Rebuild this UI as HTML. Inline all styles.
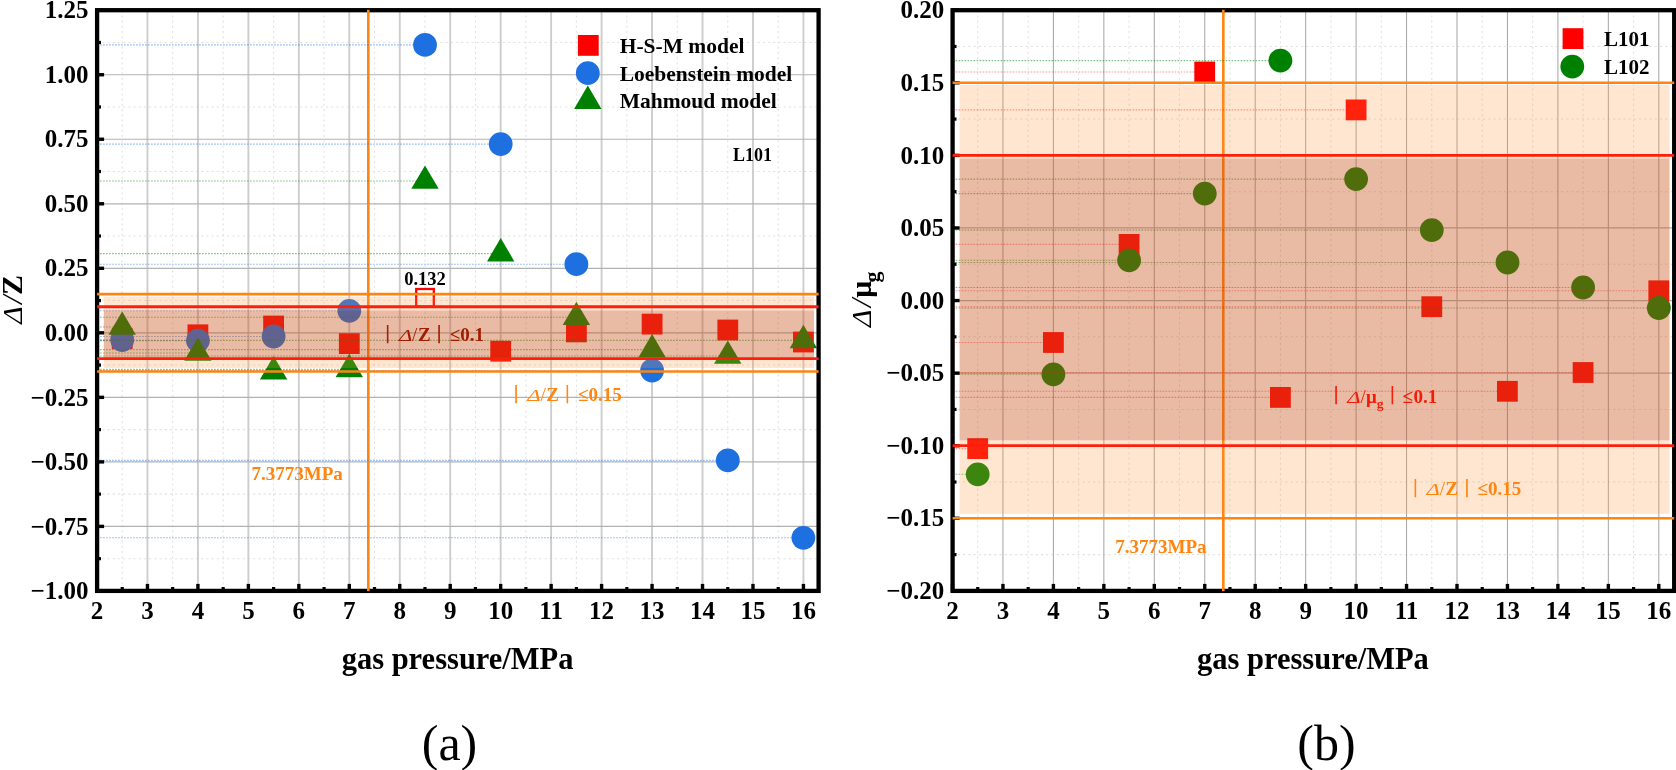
<!DOCTYPE html>
<html><head><meta charset="utf-8"><title>chart</title>
<style>html,body{margin:0;padding:0;background:#fff}svg{display:block;filter:blur(0.45px)}</style></head>
<body>
<svg width="1676" height="770" viewBox="0 0 1676 770">
<rect width="1676" height="770" fill="#fff"/>
<g>
<line x1="122.23" x2="122.23" y1="10.2" y2="590.9" stroke="#e2e2e2" stroke-width="1.05" stroke-dasharray="2.2 3"/>
<line x1="172.69" x2="172.69" y1="10.2" y2="590.9" stroke="#e2e2e2" stroke-width="1.05" stroke-dasharray="2.2 3"/>
<line x1="223.15" x2="223.15" y1="10.2" y2="590.9" stroke="#e2e2e2" stroke-width="1.05" stroke-dasharray="2.2 3"/>
<line x1="273.61" x2="273.61" y1="10.2" y2="590.9" stroke="#e2e2e2" stroke-width="1.05" stroke-dasharray="2.2 3"/>
<line x1="324.07" x2="324.07" y1="10.2" y2="590.9" stroke="#e2e2e2" stroke-width="1.05" stroke-dasharray="2.2 3"/>
<line x1="374.53" x2="374.53" y1="10.2" y2="590.9" stroke="#e2e2e2" stroke-width="1.05" stroke-dasharray="2.2 3"/>
<line x1="424.99" x2="424.99" y1="10.2" y2="590.9" stroke="#e2e2e2" stroke-width="1.05" stroke-dasharray="2.2 3"/>
<line x1="475.45" x2="475.45" y1="10.2" y2="590.9" stroke="#e2e2e2" stroke-width="1.05" stroke-dasharray="2.2 3"/>
<line x1="525.91" x2="525.91" y1="10.2" y2="590.9" stroke="#e2e2e2" stroke-width="1.05" stroke-dasharray="2.2 3"/>
<line x1="576.37" x2="576.37" y1="10.2" y2="590.9" stroke="#e2e2e2" stroke-width="1.05" stroke-dasharray="2.2 3"/>
<line x1="626.83" x2="626.83" y1="10.2" y2="590.9" stroke="#e2e2e2" stroke-width="1.05" stroke-dasharray="2.2 3"/>
<line x1="677.29" x2="677.29" y1="10.2" y2="590.9" stroke="#e2e2e2" stroke-width="1.05" stroke-dasharray="2.2 3"/>
<line x1="727.75" x2="727.75" y1="10.2" y2="590.9" stroke="#e2e2e2" stroke-width="1.05" stroke-dasharray="2.2 3"/>
<line x1="778.21" x2="778.21" y1="10.2" y2="590.9" stroke="#e2e2e2" stroke-width="1.05" stroke-dasharray="2.2 3"/>
<line x1="97.1" x2="818.6" y1="42.46" y2="42.46" stroke="#e2e2e2" stroke-width="1.05" stroke-dasharray="2.2 3"/>
<line x1="97.1" x2="818.6" y1="106.99" y2="106.99" stroke="#e2e2e2" stroke-width="1.05" stroke-dasharray="2.2 3"/>
<line x1="97.1" x2="818.6" y1="171.51" y2="171.51" stroke="#e2e2e2" stroke-width="1.05" stroke-dasharray="2.2 3"/>
<line x1="97.1" x2="818.6" y1="236.04" y2="236.04" stroke="#e2e2e2" stroke-width="1.05" stroke-dasharray="2.2 3"/>
<line x1="97.1" x2="818.6" y1="300.56" y2="300.56" stroke="#e2e2e2" stroke-width="1.05" stroke-dasharray="2.2 3"/>
<line x1="97.1" x2="818.6" y1="365.09" y2="365.09" stroke="#e2e2e2" stroke-width="1.05" stroke-dasharray="2.2 3"/>
<line x1="97.1" x2="818.6" y1="429.61" y2="429.61" stroke="#e2e2e2" stroke-width="1.05" stroke-dasharray="2.2 3"/>
<line x1="97.1" x2="818.6" y1="494.14" y2="494.14" stroke="#e2e2e2" stroke-width="1.05" stroke-dasharray="2.2 3"/>
<line x1="97.1" x2="818.6" y1="558.66" y2="558.66" stroke="#e2e2e2" stroke-width="1.05" stroke-dasharray="2.2 3"/>
<line x1="97.00" x2="97.00" y1="10.2" y2="590.9" stroke="#cdcdcd" stroke-width="1.9"/>
<line x1="147.46" x2="147.46" y1="10.2" y2="590.9" stroke="#cdcdcd" stroke-width="1.9"/>
<line x1="197.92" x2="197.92" y1="10.2" y2="590.9" stroke="#cdcdcd" stroke-width="1.9"/>
<line x1="248.38" x2="248.38" y1="10.2" y2="590.9" stroke="#cdcdcd" stroke-width="1.9"/>
<line x1="298.84" x2="298.84" y1="10.2" y2="590.9" stroke="#cdcdcd" stroke-width="1.9"/>
<line x1="349.30" x2="349.30" y1="10.2" y2="590.9" stroke="#cdcdcd" stroke-width="1.9"/>
<line x1="399.76" x2="399.76" y1="10.2" y2="590.9" stroke="#cdcdcd" stroke-width="1.9"/>
<line x1="450.22" x2="450.22" y1="10.2" y2="590.9" stroke="#cdcdcd" stroke-width="1.9"/>
<line x1="500.68" x2="500.68" y1="10.2" y2="590.9" stroke="#cdcdcd" stroke-width="1.9"/>
<line x1="551.14" x2="551.14" y1="10.2" y2="590.9" stroke="#cdcdcd" stroke-width="1.9"/>
<line x1="601.60" x2="601.60" y1="10.2" y2="590.9" stroke="#cdcdcd" stroke-width="1.9"/>
<line x1="652.06" x2="652.06" y1="10.2" y2="590.9" stroke="#cdcdcd" stroke-width="1.9"/>
<line x1="702.52" x2="702.52" y1="10.2" y2="590.9" stroke="#cdcdcd" stroke-width="1.9"/>
<line x1="752.98" x2="752.98" y1="10.2" y2="590.9" stroke="#cdcdcd" stroke-width="1.9"/>
<line x1="803.44" x2="803.44" y1="10.2" y2="590.9" stroke="#cdcdcd" stroke-width="1.9"/>
<line x1="97.1" x2="818.6" y1="10.20" y2="10.20" stroke="#b2b2b2" stroke-width="1.2"/>
<line x1="97.1" x2="818.6" y1="74.73" y2="74.73" stroke="#b2b2b2" stroke-width="1.2"/>
<line x1="97.1" x2="818.6" y1="139.25" y2="139.25" stroke="#b2b2b2" stroke-width="1.2"/>
<line x1="97.1" x2="818.6" y1="203.78" y2="203.78" stroke="#b2b2b2" stroke-width="1.2"/>
<line x1="97.1" x2="818.6" y1="268.30" y2="268.30" stroke="#b2b2b2" stroke-width="1.2"/>
<line x1="97.1" x2="818.6" y1="332.82" y2="332.82" stroke="#b2b2b2" stroke-width="1.2"/>
<line x1="97.1" x2="818.6" y1="397.35" y2="397.35" stroke="#b2b2b2" stroke-width="1.2"/>
<line x1="97.1" x2="818.6" y1="461.88" y2="461.88" stroke="#b2b2b2" stroke-width="1.2"/>
<line x1="97.1" x2="818.6" y1="526.40" y2="526.40" stroke="#b2b2b2" stroke-width="1.2"/>
<line x1="97.1" x2="818.6" y1="590.93" y2="590.93" stroke="#b2b2b2" stroke-width="1.2"/>
<line x1="368.3" x2="368.3" y1="10.2" y2="590.9" stroke="#ff8410" stroke-width="2.6"/>
<rect x="111.8" y="328.3" width="20.8" height="20.8" fill="#ff0000"/>
<rect x="187.5" y="324.4" width="20.8" height="20.8" fill="#ff0000"/>
<rect x="263.2" y="315.6" width="20.8" height="20.8" fill="#ff0000"/>
<rect x="338.9" y="333.2" width="20.8" height="20.8" fill="#ff0000"/>
<rect x="490.3" y="340.8" width="20.8" height="20.8" fill="#ff0000"/>
<rect x="566.0" y="321.5" width="20.8" height="20.8" fill="#ff0000"/>
<rect x="641.7" y="313.7" width="20.8" height="20.8" fill="#ff0000"/>
<rect x="717.4" y="319.6" width="20.8" height="20.8" fill="#ff0000"/>
<rect x="793.0" y="331.6" width="20.8" height="20.8" fill="#ff0000"/>
<rect x="416.2" y="289.0" width="17.6" height="17.6" fill="none" stroke="#ff0000" stroke-width="2.3"/>
<circle cx="122.2" cy="340.0" r="11.9" fill="#1e6fe0"/>
<circle cx="197.9" cy="340.6" r="11.9" fill="#1e6fe0"/>
<circle cx="273.6" cy="336.5" r="11.9" fill="#1e6fe0"/>
<circle cx="349.3" cy="310.8" r="11.9" fill="#1e6fe0"/>
<circle cx="425.0" cy="44.9" r="11.9" fill="#1e6fe0"/>
<circle cx="500.7" cy="144.1" r="11.9" fill="#1e6fe0"/>
<circle cx="576.4" cy="264.2" r="11.9" fill="#1e6fe0"/>
<circle cx="652.1" cy="370.5" r="11.9" fill="#1e6fe0"/>
<circle cx="727.8" cy="460.4" r="11.9" fill="#1e6fe0"/>
<circle cx="803.4" cy="537.8" r="11.9" fill="#1e6fe0"/>
<polygon points="122.2,311.4 108.5,334.8 135.9,334.8" fill="#008000"/>
<polygon points="197.9,337.4 184.2,360.8 211.6,360.8" fill="#008000"/>
<polygon points="273.6,356.1 259.9,379.5 287.3,379.5" fill="#008000"/>
<polygon points="349.3,353.8 335.6,377.2 363.0,377.2" fill="#008000"/>
<polygon points="425.0,165.4 411.3,188.8 438.7,188.8" fill="#008000"/>
<polygon points="500.7,238.0 487.0,261.4 514.4,261.4" fill="#008000"/>
<polygon points="576.4,301.7 562.7,325.1 590.1,325.1" fill="#008000"/>
<polygon points="652.1,334.0 638.4,357.4 665.8,357.4" fill="#008000"/>
<polygon points="727.8,340.4 714.0,363.8 741.5,363.8" fill="#008000"/>
<polygon points="803.4,324.8 789.7,348.2 817.1,348.2" fill="#008000"/>
<line x1="97.1" x2="122.2" y1="340.0" y2="340.0" stroke="#1e6fe0" stroke-opacity="0.5" stroke-width="1.1" stroke-dasharray="1.6 1.4"/>
<line x1="97.1" x2="197.9" y1="340.6" y2="340.6" stroke="#1e6fe0" stroke-opacity="0.5" stroke-width="1.1" stroke-dasharray="1.6 1.4"/>
<line x1="97.1" x2="273.6" y1="336.5" y2="336.5" stroke="#1e6fe0" stroke-opacity="0.5" stroke-width="1.1" stroke-dasharray="1.6 1.4"/>
<line x1="97.1" x2="349.3" y1="310.8" y2="310.8" stroke="#1e6fe0" stroke-opacity="0.5" stroke-width="1.1" stroke-dasharray="1.6 1.4"/>
<line x1="97.1" x2="425.0" y1="44.9" y2="44.9" stroke="#1e6fe0" stroke-opacity="0.5" stroke-width="1.1" stroke-dasharray="1.6 1.4"/>
<line x1="97.1" x2="500.7" y1="144.1" y2="144.1" stroke="#1e6fe0" stroke-opacity="0.5" stroke-width="1.1" stroke-dasharray="1.6 1.4"/>
<line x1="97.1" x2="576.4" y1="264.2" y2="264.2" stroke="#1e6fe0" stroke-opacity="0.5" stroke-width="1.1" stroke-dasharray="1.6 1.4"/>
<line x1="97.1" x2="652.1" y1="370.5" y2="370.5" stroke="#1e6fe0" stroke-opacity="0.5" stroke-width="1.1" stroke-dasharray="1.6 1.4"/>
<line x1="97.1" x2="727.8" y1="460.4" y2="460.4" stroke="#1e6fe0" stroke-opacity="0.5" stroke-width="1.1" stroke-dasharray="1.6 1.4"/>
<line x1="97.1" x2="803.4" y1="537.8" y2="537.8" stroke="#1e6fe0" stroke-opacity="0.5" stroke-width="1.1" stroke-dasharray="1.6 1.4"/>
<line x1="97.1" x2="122.2" y1="327.0" y2="327.0" stroke="#008000" stroke-opacity="0.5" stroke-width="1.1" stroke-dasharray="1.6 1.4"/>
<line x1="97.1" x2="197.9" y1="353.0" y2="353.0" stroke="#008000" stroke-opacity="0.5" stroke-width="1.1" stroke-dasharray="1.6 1.4"/>
<line x1="97.1" x2="273.6" y1="371.7" y2="371.7" stroke="#008000" stroke-opacity="0.5" stroke-width="1.1" stroke-dasharray="1.6 1.4"/>
<line x1="97.1" x2="349.3" y1="369.4" y2="369.4" stroke="#008000" stroke-opacity="0.5" stroke-width="1.1" stroke-dasharray="1.6 1.4"/>
<line x1="97.1" x2="425.0" y1="181.0" y2="181.0" stroke="#008000" stroke-opacity="0.5" stroke-width="1.1" stroke-dasharray="1.6 1.4"/>
<line x1="97.1" x2="500.7" y1="253.6" y2="253.6" stroke="#008000" stroke-opacity="0.5" stroke-width="1.1" stroke-dasharray="1.6 1.4"/>
<line x1="97.1" x2="576.4" y1="317.3" y2="317.3" stroke="#008000" stroke-opacity="0.5" stroke-width="1.1" stroke-dasharray="1.6 1.4"/>
<line x1="97.1" x2="652.1" y1="349.6" y2="349.6" stroke="#008000" stroke-opacity="0.5" stroke-width="1.1" stroke-dasharray="1.6 1.4"/>
<line x1="97.1" x2="727.8" y1="356.0" y2="356.0" stroke="#008000" stroke-opacity="0.5" stroke-width="1.1" stroke-dasharray="1.6 1.4"/>
<line x1="97.1" x2="803.4" y1="340.4" y2="340.4" stroke="#008000" stroke-opacity="0.5" stroke-width="1.1" stroke-dasharray="1.6 1.4"/>
<rect x="103.8" y="296.7" width="710.2" height="71.3" fill="rgb(255,150,60)" fill-opacity="0.235"/>
<rect x="103.8" y="310.5" width="710.2" height="47.5" fill="rgb(150,25,0)" fill-opacity="0.21"/>
<line x1="97.00" x2="97.00" y1="590.9" y2="583.9" stroke="#000" stroke-width="3.4"/>
<line x1="147.46" x2="147.46" y1="590.9" y2="583.9" stroke="#000" stroke-width="3.4"/>
<line x1="197.92" x2="197.92" y1="590.9" y2="583.9" stroke="#000" stroke-width="3.4"/>
<line x1="248.38" x2="248.38" y1="590.9" y2="583.9" stroke="#000" stroke-width="3.4"/>
<line x1="298.84" x2="298.84" y1="590.9" y2="583.9" stroke="#000" stroke-width="3.4"/>
<line x1="349.30" x2="349.30" y1="590.9" y2="583.9" stroke="#000" stroke-width="3.4"/>
<line x1="399.76" x2="399.76" y1="590.9" y2="583.9" stroke="#000" stroke-width="3.4"/>
<line x1="450.22" x2="450.22" y1="590.9" y2="583.9" stroke="#000" stroke-width="3.4"/>
<line x1="500.68" x2="500.68" y1="590.9" y2="583.9" stroke="#000" stroke-width="3.4"/>
<line x1="551.14" x2="551.14" y1="590.9" y2="583.9" stroke="#000" stroke-width="3.4"/>
<line x1="601.60" x2="601.60" y1="590.9" y2="583.9" stroke="#000" stroke-width="3.4"/>
<line x1="652.06" x2="652.06" y1="590.9" y2="583.9" stroke="#000" stroke-width="3.4"/>
<line x1="702.52" x2="702.52" y1="590.9" y2="583.9" stroke="#000" stroke-width="3.4"/>
<line x1="752.98" x2="752.98" y1="590.9" y2="583.9" stroke="#000" stroke-width="3.4"/>
<line x1="803.44" x2="803.44" y1="590.9" y2="583.9" stroke="#000" stroke-width="3.4"/>
<line x1="122.23" x2="122.23" y1="590.9" y2="587.0" stroke="#000" stroke-width="3.2"/>
<line x1="172.69" x2="172.69" y1="590.9" y2="587.0" stroke="#000" stroke-width="3.2"/>
<line x1="223.15" x2="223.15" y1="590.9" y2="587.0" stroke="#000" stroke-width="3.2"/>
<line x1="273.61" x2="273.61" y1="590.9" y2="587.0" stroke="#000" stroke-width="3.2"/>
<line x1="324.07" x2="324.07" y1="590.9" y2="587.0" stroke="#000" stroke-width="3.2"/>
<line x1="374.53" x2="374.53" y1="590.9" y2="587.0" stroke="#000" stroke-width="3.2"/>
<line x1="424.99" x2="424.99" y1="590.9" y2="587.0" stroke="#000" stroke-width="3.2"/>
<line x1="475.45" x2="475.45" y1="590.9" y2="587.0" stroke="#000" stroke-width="3.2"/>
<line x1="525.91" x2="525.91" y1="590.9" y2="587.0" stroke="#000" stroke-width="3.2"/>
<line x1="576.37" x2="576.37" y1="590.9" y2="587.0" stroke="#000" stroke-width="3.2"/>
<line x1="626.83" x2="626.83" y1="590.9" y2="587.0" stroke="#000" stroke-width="3.2"/>
<line x1="677.29" x2="677.29" y1="590.9" y2="587.0" stroke="#000" stroke-width="3.2"/>
<line x1="727.75" x2="727.75" y1="590.9" y2="587.0" stroke="#000" stroke-width="3.2"/>
<line x1="778.21" x2="778.21" y1="590.9" y2="587.0" stroke="#000" stroke-width="3.2"/>
<line x1="97.1" x2="104.1" y1="10.20" y2="10.20" stroke="#000" stroke-width="3.4"/>
<line x1="97.1" x2="104.1" y1="74.73" y2="74.73" stroke="#000" stroke-width="3.4"/>
<line x1="97.1" x2="104.1" y1="139.25" y2="139.25" stroke="#000" stroke-width="3.4"/>
<line x1="97.1" x2="104.1" y1="203.78" y2="203.78" stroke="#000" stroke-width="3.4"/>
<line x1="97.1" x2="104.1" y1="268.30" y2="268.30" stroke="#000" stroke-width="3.4"/>
<line x1="97.1" x2="104.1" y1="332.82" y2="332.82" stroke="#000" stroke-width="3.4"/>
<line x1="97.1" x2="104.1" y1="397.35" y2="397.35" stroke="#000" stroke-width="3.4"/>
<line x1="97.1" x2="104.1" y1="461.88" y2="461.88" stroke="#000" stroke-width="3.4"/>
<line x1="97.1" x2="104.1" y1="526.40" y2="526.40" stroke="#000" stroke-width="3.4"/>
<line x1="97.1" x2="104.1" y1="590.93" y2="590.93" stroke="#000" stroke-width="3.4"/>
<line x1="97.1" x2="101.0" y1="42.46" y2="42.46" stroke="#000" stroke-width="3.2"/>
<line x1="97.1" x2="101.0" y1="106.99" y2="106.99" stroke="#000" stroke-width="3.2"/>
<line x1="97.1" x2="101.0" y1="171.51" y2="171.51" stroke="#000" stroke-width="3.2"/>
<line x1="97.1" x2="101.0" y1="236.04" y2="236.04" stroke="#000" stroke-width="3.2"/>
<line x1="97.1" x2="101.0" y1="300.56" y2="300.56" stroke="#000" stroke-width="3.2"/>
<line x1="97.1" x2="101.0" y1="365.09" y2="365.09" stroke="#000" stroke-width="3.2"/>
<line x1="97.1" x2="101.0" y1="429.61" y2="429.61" stroke="#000" stroke-width="3.2"/>
<line x1="97.1" x2="101.0" y1="494.14" y2="494.14" stroke="#000" stroke-width="3.2"/>
<line x1="97.1" x2="101.0" y1="558.66" y2="558.66" stroke="#000" stroke-width="3.2"/>
<rect x="97.1" y="10.2" width="721.5" height="580.7" fill="none" stroke="#000" stroke-width="4.3"/>
<line x1="97.1" x2="818.6" y1="294.1" y2="294.1" stroke="#ff8410" stroke-width="2.6"/>
<line x1="97.1" x2="818.6" y1="371.5" y2="371.5" stroke="#ff8410" stroke-width="2.6"/>
<line x1="97.1" x2="818.6" y1="306.8" y2="306.8" stroke="#ff1e0a" stroke-width="2.9"/>
<line x1="97.1" x2="818.6" y1="358.6" y2="358.6" stroke="#ff1e0a" stroke-width="2.9"/>
<line x1="368.3" x2="368.3" y1="587.9" y2="591.1999999999999" stroke="#ff8410" stroke-width="2.6"/>
<line x1="368.3" x2="368.3" y1="9.799999999999999" y2="13.2" stroke="#ff8410" stroke-width="2.6"/>
<text x="97.0" y="618.6" text-anchor="middle" font-family='"Liberation Serif","Noto Serif CJK SC",serif' font-weight="bold" font-size="25">2</text>
<text x="147.5" y="618.6" text-anchor="middle" font-family='"Liberation Serif","Noto Serif CJK SC",serif' font-weight="bold" font-size="25">3</text>
<text x="197.9" y="618.6" text-anchor="middle" font-family='"Liberation Serif","Noto Serif CJK SC",serif' font-weight="bold" font-size="25">4</text>
<text x="248.4" y="618.6" text-anchor="middle" font-family='"Liberation Serif","Noto Serif CJK SC",serif' font-weight="bold" font-size="25">5</text>
<text x="298.8" y="618.6" text-anchor="middle" font-family='"Liberation Serif","Noto Serif CJK SC",serif' font-weight="bold" font-size="25">6</text>
<text x="349.3" y="618.6" text-anchor="middle" font-family='"Liberation Serif","Noto Serif CJK SC",serif' font-weight="bold" font-size="25">7</text>
<text x="399.8" y="618.6" text-anchor="middle" font-family='"Liberation Serif","Noto Serif CJK SC",serif' font-weight="bold" font-size="25">8</text>
<text x="450.2" y="618.6" text-anchor="middle" font-family='"Liberation Serif","Noto Serif CJK SC",serif' font-weight="bold" font-size="25">9</text>
<text x="500.7" y="618.6" text-anchor="middle" font-family='"Liberation Serif","Noto Serif CJK SC",serif' font-weight="bold" font-size="25">10</text>
<text x="551.1" y="618.6" text-anchor="middle" font-family='"Liberation Serif","Noto Serif CJK SC",serif' font-weight="bold" font-size="25">11</text>
<text x="601.6" y="618.6" text-anchor="middle" font-family='"Liberation Serif","Noto Serif CJK SC",serif' font-weight="bold" font-size="25">12</text>
<text x="652.1" y="618.6" text-anchor="middle" font-family='"Liberation Serif","Noto Serif CJK SC",serif' font-weight="bold" font-size="25">13</text>
<text x="702.5" y="618.6" text-anchor="middle" font-family='"Liberation Serif","Noto Serif CJK SC",serif' font-weight="bold" font-size="25">14</text>
<text x="753.0" y="618.6" text-anchor="middle" font-family='"Liberation Serif","Noto Serif CJK SC",serif' font-weight="bold" font-size="25">15</text>
<text x="803.4" y="618.6" text-anchor="middle" font-family='"Liberation Serif","Noto Serif CJK SC",serif' font-weight="bold" font-size="25">16</text>
<text x="88.6" y="18.3" text-anchor="end" font-family='"Liberation Serif","Noto Serif CJK SC",serif' font-weight="bold" font-size="25">1.25</text>
<text x="88.6" y="82.8" text-anchor="end" font-family='"Liberation Serif","Noto Serif CJK SC",serif' font-weight="bold" font-size="25">1.00</text>
<text x="88.6" y="147.3" text-anchor="end" font-family='"Liberation Serif","Noto Serif CJK SC",serif' font-weight="bold" font-size="25">0.75</text>
<text x="88.6" y="211.9" text-anchor="end" font-family='"Liberation Serif","Noto Serif CJK SC",serif' font-weight="bold" font-size="25">0.50</text>
<text x="88.6" y="276.4" text-anchor="end" font-family='"Liberation Serif","Noto Serif CJK SC",serif' font-weight="bold" font-size="25">0.25</text>
<text x="88.6" y="340.9" text-anchor="end" font-family='"Liberation Serif","Noto Serif CJK SC",serif' font-weight="bold" font-size="25">0.00</text>
<text x="88.6" y="405.5" text-anchor="end" font-family='"Liberation Serif","Noto Serif CJK SC",serif' font-weight="bold" font-size="25">−0.25</text>
<text x="88.6" y="470.0" text-anchor="end" font-family='"Liberation Serif","Noto Serif CJK SC",serif' font-weight="bold" font-size="25">−0.50</text>
<text x="88.6" y="534.5" text-anchor="end" font-family='"Liberation Serif","Noto Serif CJK SC",serif' font-weight="bold" font-size="25">−0.75</text>
<text x="88.6" y="599.0" text-anchor="end" font-family='"Liberation Serif","Noto Serif CJK SC",serif' font-weight="bold" font-size="25">−1.00</text>
</g>
<g>
<line x1="977.73" x2="977.73" y1="10.2" y2="590.9" stroke="#e2e2e2" stroke-width="1.05" stroke-dasharray="2.2 3"/>
<line x1="1028.17" x2="1028.17" y1="10.2" y2="590.9" stroke="#e2e2e2" stroke-width="1.05" stroke-dasharray="2.2 3"/>
<line x1="1078.62" x2="1078.62" y1="10.2" y2="590.9" stroke="#e2e2e2" stroke-width="1.05" stroke-dasharray="2.2 3"/>
<line x1="1129.08" x2="1129.08" y1="10.2" y2="590.9" stroke="#e2e2e2" stroke-width="1.05" stroke-dasharray="2.2 3"/>
<line x1="1179.53" x2="1179.53" y1="10.2" y2="590.9" stroke="#e2e2e2" stroke-width="1.05" stroke-dasharray="2.2 3"/>
<line x1="1229.97" x2="1229.97" y1="10.2" y2="590.9" stroke="#e2e2e2" stroke-width="1.05" stroke-dasharray="2.2 3"/>
<line x1="1280.42" x2="1280.42" y1="10.2" y2="590.9" stroke="#e2e2e2" stroke-width="1.05" stroke-dasharray="2.2 3"/>
<line x1="1330.88" x2="1330.88" y1="10.2" y2="590.9" stroke="#e2e2e2" stroke-width="1.05" stroke-dasharray="2.2 3"/>
<line x1="1381.33" x2="1381.33" y1="10.2" y2="590.9" stroke="#e2e2e2" stroke-width="1.05" stroke-dasharray="2.2 3"/>
<line x1="1431.78" x2="1431.78" y1="10.2" y2="590.9" stroke="#e2e2e2" stroke-width="1.05" stroke-dasharray="2.2 3"/>
<line x1="1482.22" x2="1482.22" y1="10.2" y2="590.9" stroke="#e2e2e2" stroke-width="1.05" stroke-dasharray="2.2 3"/>
<line x1="1532.68" x2="1532.68" y1="10.2" y2="590.9" stroke="#e2e2e2" stroke-width="1.05" stroke-dasharray="2.2 3"/>
<line x1="1583.12" x2="1583.12" y1="10.2" y2="590.9" stroke="#e2e2e2" stroke-width="1.05" stroke-dasharray="2.2 3"/>
<line x1="1633.58" x2="1633.58" y1="10.2" y2="590.9" stroke="#e2e2e2" stroke-width="1.05" stroke-dasharray="2.2 3"/>
<line x1="952.6" x2="1674.2" y1="46.49" y2="46.49" stroke="#e2e2e2" stroke-width="1.05" stroke-dasharray="2.2 3"/>
<line x1="952.6" x2="1674.2" y1="119.08" y2="119.08" stroke="#e2e2e2" stroke-width="1.05" stroke-dasharray="2.2 3"/>
<line x1="952.6" x2="1674.2" y1="191.67" y2="191.67" stroke="#e2e2e2" stroke-width="1.05" stroke-dasharray="2.2 3"/>
<line x1="952.6" x2="1674.2" y1="264.26" y2="264.26" stroke="#e2e2e2" stroke-width="1.05" stroke-dasharray="2.2 3"/>
<line x1="952.6" x2="1674.2" y1="336.84" y2="336.84" stroke="#e2e2e2" stroke-width="1.05" stroke-dasharray="2.2 3"/>
<line x1="952.6" x2="1674.2" y1="409.43" y2="409.43" stroke="#e2e2e2" stroke-width="1.05" stroke-dasharray="2.2 3"/>
<line x1="952.6" x2="1674.2" y1="482.02" y2="482.02" stroke="#e2e2e2" stroke-width="1.05" stroke-dasharray="2.2 3"/>
<line x1="952.6" x2="1674.2" y1="554.61" y2="554.61" stroke="#e2e2e2" stroke-width="1.05" stroke-dasharray="2.2 3"/>
<line x1="952.50" x2="952.50" y1="10.2" y2="590.9" stroke="#a8a8a8" stroke-width="1.05"/>
<line x1="1002.95" x2="1002.95" y1="10.2" y2="590.9" stroke="#a8a8a8" stroke-width="1.05"/>
<line x1="1053.40" x2="1053.40" y1="10.2" y2="590.9" stroke="#a8a8a8" stroke-width="1.05"/>
<line x1="1103.85" x2="1103.85" y1="10.2" y2="590.9" stroke="#a8a8a8" stroke-width="1.05"/>
<line x1="1154.30" x2="1154.30" y1="10.2" y2="590.9" stroke="#a8a8a8" stroke-width="1.05"/>
<line x1="1204.75" x2="1204.75" y1="10.2" y2="590.9" stroke="#a8a8a8" stroke-width="1.05"/>
<line x1="1255.20" x2="1255.20" y1="10.2" y2="590.9" stroke="#a8a8a8" stroke-width="1.05"/>
<line x1="1305.65" x2="1305.65" y1="10.2" y2="590.9" stroke="#a8a8a8" stroke-width="1.05"/>
<line x1="1356.10" x2="1356.10" y1="10.2" y2="590.9" stroke="#a8a8a8" stroke-width="1.05"/>
<line x1="1406.55" x2="1406.55" y1="10.2" y2="590.9" stroke="#a8a8a8" stroke-width="1.05"/>
<line x1="1457.00" x2="1457.00" y1="10.2" y2="590.9" stroke="#a8a8a8" stroke-width="1.05"/>
<line x1="1507.45" x2="1507.45" y1="10.2" y2="590.9" stroke="#a8a8a8" stroke-width="1.05"/>
<line x1="1557.90" x2="1557.90" y1="10.2" y2="590.9" stroke="#a8a8a8" stroke-width="1.05"/>
<line x1="1608.35" x2="1608.35" y1="10.2" y2="590.9" stroke="#a8a8a8" stroke-width="1.05"/>
<line x1="1658.80" x2="1658.80" y1="10.2" y2="590.9" stroke="#a8a8a8" stroke-width="1.05"/>
<line x1="952.6" x2="1674.2" y1="10.20" y2="10.20" stroke="#b2b2b2" stroke-width="1.2"/>
<line x1="952.6" x2="1674.2" y1="82.79" y2="82.79" stroke="#b2b2b2" stroke-width="1.2"/>
<line x1="952.6" x2="1674.2" y1="155.38" y2="155.38" stroke="#b2b2b2" stroke-width="1.2"/>
<line x1="952.6" x2="1674.2" y1="227.96" y2="227.96" stroke="#b2b2b2" stroke-width="1.2"/>
<line x1="952.6" x2="1674.2" y1="300.55" y2="300.55" stroke="#b2b2b2" stroke-width="1.2"/>
<line x1="952.6" x2="1674.2" y1="373.14" y2="373.14" stroke="#b2b2b2" stroke-width="1.2"/>
<line x1="952.6" x2="1674.2" y1="445.73" y2="445.73" stroke="#b2b2b2" stroke-width="1.2"/>
<line x1="952.6" x2="1674.2" y1="518.31" y2="518.31" stroke="#b2b2b2" stroke-width="1.2"/>
<line x1="952.6" x2="1674.2" y1="590.90" y2="590.90" stroke="#b2b2b2" stroke-width="1.2"/>
<line x1="1223.3" x2="1223.3" y1="10.2" y2="590.9" stroke="#ff8410" stroke-width="2.6"/>
<rect x="967.3" y="438.2" width="20.8" height="20.8" fill="#ff0000"/>
<rect x="1043.0" y="332.1" width="20.8" height="20.8" fill="#ff0000"/>
<rect x="1118.7" y="234.0" width="20.8" height="20.8" fill="#ff0000"/>
<rect x="1194.3" y="61.6" width="20.8" height="20.8" fill="#ff0000"/>
<rect x="1270.0" y="387.0" width="20.8" height="20.8" fill="#ff0000"/>
<rect x="1345.7" y="99.5" width="20.8" height="20.8" fill="#ff0000"/>
<rect x="1421.4" y="296.3" width="20.8" height="20.8" fill="#ff0000"/>
<rect x="1497.0" y="380.9" width="20.8" height="20.8" fill="#ff0000"/>
<rect x="1572.7" y="362.1" width="20.8" height="20.8" fill="#ff0000"/>
<rect x="1648.4" y="280.4" width="20.8" height="20.8" fill="#ff0000"/>
<circle cx="977.7" cy="474.3" r="11.9" fill="#008000"/>
<circle cx="1053.4" cy="374.3" r="11.9" fill="#008000"/>
<circle cx="1129.1" cy="260.3" r="11.9" fill="#008000"/>
<circle cx="1204.8" cy="193.6" r="11.9" fill="#008000"/>
<circle cx="1280.4" cy="60.6" r="11.9" fill="#008000"/>
<circle cx="1356.1" cy="179.1" r="11.9" fill="#008000"/>
<circle cx="1431.8" cy="230.1" r="11.9" fill="#008000"/>
<circle cx="1507.5" cy="262.5" r="11.9" fill="#008000"/>
<circle cx="1583.1" cy="287.5" r="11.9" fill="#008000"/>
<circle cx="1658.8" cy="308.0" r="11.9" fill="#008000"/>
<line x1="952.6" x2="977.7" y1="448.6" y2="448.6" stroke="#ff0000" stroke-opacity="0.42" stroke-width="1.1" stroke-dasharray="1.6 1.4"/>
<line x1="952.6" x2="1053.4" y1="342.5" y2="342.5" stroke="#ff0000" stroke-opacity="0.42" stroke-width="1.1" stroke-dasharray="1.6 1.4"/>
<line x1="952.6" x2="1129.1" y1="244.4" y2="244.4" stroke="#ff0000" stroke-opacity="0.42" stroke-width="1.1" stroke-dasharray="1.6 1.4"/>
<line x1="952.6" x2="1204.8" y1="72.0" y2="72.0" stroke="#ff0000" stroke-opacity="0.42" stroke-width="1.1" stroke-dasharray="1.6 1.4"/>
<line x1="952.6" x2="1280.4" y1="397.4" y2="397.4" stroke="#ff0000" stroke-opacity="0.42" stroke-width="1.1" stroke-dasharray="1.6 1.4"/>
<line x1="952.6" x2="1356.1" y1="109.9" y2="109.9" stroke="#ff0000" stroke-opacity="0.42" stroke-width="1.1" stroke-dasharray="1.6 1.4"/>
<line x1="952.6" x2="1431.8" y1="306.7" y2="306.7" stroke="#ff0000" stroke-opacity="0.42" stroke-width="1.1" stroke-dasharray="1.6 1.4"/>
<line x1="952.6" x2="1507.5" y1="391.3" y2="391.3" stroke="#ff0000" stroke-opacity="0.42" stroke-width="1.1" stroke-dasharray="1.6 1.4"/>
<line x1="952.6" x2="1583.1" y1="372.5" y2="372.5" stroke="#ff0000" stroke-opacity="0.42" stroke-width="1.1" stroke-dasharray="1.6 1.4"/>
<line x1="952.6" x2="1658.8" y1="290.8" y2="290.8" stroke="#ff0000" stroke-opacity="0.42" stroke-width="1.1" stroke-dasharray="1.6 1.4"/>
<line x1="952.6" x2="977.7" y1="474.3" y2="474.3" stroke="#008000" stroke-opacity="0.5" stroke-width="1.1" stroke-dasharray="1.6 1.4"/>
<line x1="952.6" x2="1053.4" y1="374.3" y2="374.3" stroke="#008000" stroke-opacity="0.5" stroke-width="1.1" stroke-dasharray="1.6 1.4"/>
<line x1="952.6" x2="1129.1" y1="260.3" y2="260.3" stroke="#008000" stroke-opacity="0.5" stroke-width="1.1" stroke-dasharray="1.6 1.4"/>
<line x1="952.6" x2="1204.8" y1="193.6" y2="193.6" stroke="#008000" stroke-opacity="0.5" stroke-width="1.1" stroke-dasharray="1.6 1.4"/>
<line x1="952.6" x2="1280.4" y1="60.6" y2="60.6" stroke="#008000" stroke-opacity="0.5" stroke-width="1.1" stroke-dasharray="1.6 1.4"/>
<line x1="952.6" x2="1356.1" y1="179.1" y2="179.1" stroke="#008000" stroke-opacity="0.5" stroke-width="1.1" stroke-dasharray="1.6 1.4"/>
<line x1="952.6" x2="1431.8" y1="230.1" y2="230.1" stroke="#008000" stroke-opacity="0.5" stroke-width="1.1" stroke-dasharray="1.6 1.4"/>
<line x1="952.6" x2="1507.5" y1="262.5" y2="262.5" stroke="#008000" stroke-opacity="0.5" stroke-width="1.1" stroke-dasharray="1.6 1.4"/>
<line x1="952.6" x2="1583.1" y1="287.5" y2="287.5" stroke="#008000" stroke-opacity="0.5" stroke-width="1.1" stroke-dasharray="1.6 1.4"/>
<line x1="952.6" x2="1658.8" y1="308.0" y2="308.0" stroke="#008000" stroke-opacity="0.5" stroke-width="1.1" stroke-dasharray="1.6 1.4"/>
<rect x="959.6" y="85.0" width="709.9" height="428.8" fill="rgb(255,150,60)" fill-opacity="0.235"/>
<rect x="959.6" y="158.6" width="709.9" height="281.7" fill="rgb(150,25,0)" fill-opacity="0.21"/>
<line x1="952.50" x2="952.50" y1="590.9" y2="583.9" stroke="#000" stroke-width="3.4"/>
<line x1="1002.95" x2="1002.95" y1="590.9" y2="583.9" stroke="#000" stroke-width="3.4"/>
<line x1="1053.40" x2="1053.40" y1="590.9" y2="583.9" stroke="#000" stroke-width="3.4"/>
<line x1="1103.85" x2="1103.85" y1="590.9" y2="583.9" stroke="#000" stroke-width="3.4"/>
<line x1="1154.30" x2="1154.30" y1="590.9" y2="583.9" stroke="#000" stroke-width="3.4"/>
<line x1="1204.75" x2="1204.75" y1="590.9" y2="583.9" stroke="#000" stroke-width="3.4"/>
<line x1="1255.20" x2="1255.20" y1="590.9" y2="583.9" stroke="#000" stroke-width="3.4"/>
<line x1="1305.65" x2="1305.65" y1="590.9" y2="583.9" stroke="#000" stroke-width="3.4"/>
<line x1="1356.10" x2="1356.10" y1="590.9" y2="583.9" stroke="#000" stroke-width="3.4"/>
<line x1="1406.55" x2="1406.55" y1="590.9" y2="583.9" stroke="#000" stroke-width="3.4"/>
<line x1="1457.00" x2="1457.00" y1="590.9" y2="583.9" stroke="#000" stroke-width="3.4"/>
<line x1="1507.45" x2="1507.45" y1="590.9" y2="583.9" stroke="#000" stroke-width="3.4"/>
<line x1="1557.90" x2="1557.90" y1="590.9" y2="583.9" stroke="#000" stroke-width="3.4"/>
<line x1="1608.35" x2="1608.35" y1="590.9" y2="583.9" stroke="#000" stroke-width="3.4"/>
<line x1="1658.80" x2="1658.80" y1="590.9" y2="583.9" stroke="#000" stroke-width="3.4"/>
<line x1="977.73" x2="977.73" y1="590.9" y2="587.0" stroke="#000" stroke-width="3.2"/>
<line x1="1028.17" x2="1028.17" y1="590.9" y2="587.0" stroke="#000" stroke-width="3.2"/>
<line x1="1078.62" x2="1078.62" y1="590.9" y2="587.0" stroke="#000" stroke-width="3.2"/>
<line x1="1129.08" x2="1129.08" y1="590.9" y2="587.0" stroke="#000" stroke-width="3.2"/>
<line x1="1179.53" x2="1179.53" y1="590.9" y2="587.0" stroke="#000" stroke-width="3.2"/>
<line x1="1229.97" x2="1229.97" y1="590.9" y2="587.0" stroke="#000" stroke-width="3.2"/>
<line x1="1280.42" x2="1280.42" y1="590.9" y2="587.0" stroke="#000" stroke-width="3.2"/>
<line x1="1330.88" x2="1330.88" y1="590.9" y2="587.0" stroke="#000" stroke-width="3.2"/>
<line x1="1381.33" x2="1381.33" y1="590.9" y2="587.0" stroke="#000" stroke-width="3.2"/>
<line x1="1431.78" x2="1431.78" y1="590.9" y2="587.0" stroke="#000" stroke-width="3.2"/>
<line x1="1482.22" x2="1482.22" y1="590.9" y2="587.0" stroke="#000" stroke-width="3.2"/>
<line x1="1532.68" x2="1532.68" y1="590.9" y2="587.0" stroke="#000" stroke-width="3.2"/>
<line x1="1583.12" x2="1583.12" y1="590.9" y2="587.0" stroke="#000" stroke-width="3.2"/>
<line x1="1633.58" x2="1633.58" y1="590.9" y2="587.0" stroke="#000" stroke-width="3.2"/>
<line x1="952.6" x2="959.6" y1="10.20" y2="10.20" stroke="#000" stroke-width="3.4"/>
<line x1="952.6" x2="959.6" y1="82.79" y2="82.79" stroke="#000" stroke-width="3.4"/>
<line x1="952.6" x2="959.6" y1="155.38" y2="155.38" stroke="#000" stroke-width="3.4"/>
<line x1="952.6" x2="959.6" y1="227.96" y2="227.96" stroke="#000" stroke-width="3.4"/>
<line x1="952.6" x2="959.6" y1="300.55" y2="300.55" stroke="#000" stroke-width="3.4"/>
<line x1="952.6" x2="959.6" y1="373.14" y2="373.14" stroke="#000" stroke-width="3.4"/>
<line x1="952.6" x2="959.6" y1="445.73" y2="445.73" stroke="#000" stroke-width="3.4"/>
<line x1="952.6" x2="959.6" y1="518.31" y2="518.31" stroke="#000" stroke-width="3.4"/>
<line x1="952.6" x2="959.6" y1="590.90" y2="590.90" stroke="#000" stroke-width="3.4"/>
<line x1="952.6" x2="956.5" y1="46.49" y2="46.49" stroke="#000" stroke-width="3.2"/>
<line x1="952.6" x2="956.5" y1="119.08" y2="119.08" stroke="#000" stroke-width="3.2"/>
<line x1="952.6" x2="956.5" y1="191.67" y2="191.67" stroke="#000" stroke-width="3.2"/>
<line x1="952.6" x2="956.5" y1="264.26" y2="264.26" stroke="#000" stroke-width="3.2"/>
<line x1="952.6" x2="956.5" y1="336.84" y2="336.84" stroke="#000" stroke-width="3.2"/>
<line x1="952.6" x2="956.5" y1="409.43" y2="409.43" stroke="#000" stroke-width="3.2"/>
<line x1="952.6" x2="956.5" y1="482.02" y2="482.02" stroke="#000" stroke-width="3.2"/>
<line x1="952.6" x2="956.5" y1="554.61" y2="554.61" stroke="#000" stroke-width="3.2"/>
<rect x="952.6" y="10.2" width="721.6" height="580.7" fill="none" stroke="#000" stroke-width="4.3"/>
<line x1="952.6" x2="1674.2" y1="82.8" y2="82.8" stroke="#ff8410" stroke-width="2.5"/>
<line x1="952.6" x2="1674.2" y1="518.2" y2="518.2" stroke="#ff8410" stroke-width="2.5"/>
<line x1="952.6" x2="1674.2" y1="155.4" y2="155.4" stroke="#ff1e0a" stroke-width="2.8"/>
<line x1="952.6" x2="1674.2" y1="445.6" y2="445.6" stroke="#ff1e0a" stroke-width="2.8"/>
<line x1="1223.3" x2="1223.3" y1="587.9" y2="591.1999999999999" stroke="#ff8410" stroke-width="2.6"/>
<line x1="1223.3" x2="1223.3" y1="9.799999999999999" y2="13.2" stroke="#ff8410" stroke-width="2.6"/>
<text x="952.5" y="618.6" text-anchor="middle" font-family='"Liberation Serif","Noto Serif CJK SC",serif' font-weight="bold" font-size="25">2</text>
<text x="1003.0" y="618.6" text-anchor="middle" font-family='"Liberation Serif","Noto Serif CJK SC",serif' font-weight="bold" font-size="25">3</text>
<text x="1053.4" y="618.6" text-anchor="middle" font-family='"Liberation Serif","Noto Serif CJK SC",serif' font-weight="bold" font-size="25">4</text>
<text x="1103.8" y="618.6" text-anchor="middle" font-family='"Liberation Serif","Noto Serif CJK SC",serif' font-weight="bold" font-size="25">5</text>
<text x="1154.3" y="618.6" text-anchor="middle" font-family='"Liberation Serif","Noto Serif CJK SC",serif' font-weight="bold" font-size="25">6</text>
<text x="1204.8" y="618.6" text-anchor="middle" font-family='"Liberation Serif","Noto Serif CJK SC",serif' font-weight="bold" font-size="25">7</text>
<text x="1255.2" y="618.6" text-anchor="middle" font-family='"Liberation Serif","Noto Serif CJK SC",serif' font-weight="bold" font-size="25">8</text>
<text x="1305.7" y="618.6" text-anchor="middle" font-family='"Liberation Serif","Noto Serif CJK SC",serif' font-weight="bold" font-size="25">9</text>
<text x="1356.1" y="618.6" text-anchor="middle" font-family='"Liberation Serif","Noto Serif CJK SC",serif' font-weight="bold" font-size="25">10</text>
<text x="1406.5" y="618.6" text-anchor="middle" font-family='"Liberation Serif","Noto Serif CJK SC",serif' font-weight="bold" font-size="25">11</text>
<text x="1457.0" y="618.6" text-anchor="middle" font-family='"Liberation Serif","Noto Serif CJK SC",serif' font-weight="bold" font-size="25">12</text>
<text x="1507.5" y="618.6" text-anchor="middle" font-family='"Liberation Serif","Noto Serif CJK SC",serif' font-weight="bold" font-size="25">13</text>
<text x="1557.9" y="618.6" text-anchor="middle" font-family='"Liberation Serif","Noto Serif CJK SC",serif' font-weight="bold" font-size="25">14</text>
<text x="1608.3" y="618.6" text-anchor="middle" font-family='"Liberation Serif","Noto Serif CJK SC",serif' font-weight="bold" font-size="25">15</text>
<text x="1658.8" y="618.6" text-anchor="middle" font-family='"Liberation Serif","Noto Serif CJK SC",serif' font-weight="bold" font-size="25">16</text>
<text x="944.2" y="18.3" text-anchor="end" font-family='"Liberation Serif","Noto Serif CJK SC",serif' font-weight="bold" font-size="25">0.20</text>
<text x="944.2" y="90.9" text-anchor="end" font-family='"Liberation Serif","Noto Serif CJK SC",serif' font-weight="bold" font-size="25">0.15</text>
<text x="944.2" y="163.5" text-anchor="end" font-family='"Liberation Serif","Noto Serif CJK SC",serif' font-weight="bold" font-size="25">0.10</text>
<text x="944.2" y="236.1" text-anchor="end" font-family='"Liberation Serif","Noto Serif CJK SC",serif' font-weight="bold" font-size="25">0.05</text>
<text x="944.2" y="308.7" text-anchor="end" font-family='"Liberation Serif","Noto Serif CJK SC",serif' font-weight="bold" font-size="25">0.00</text>
<text x="944.2" y="381.2" text-anchor="end" font-family='"Liberation Serif","Noto Serif CJK SC",serif' font-weight="bold" font-size="25">−0.05</text>
<text x="944.2" y="453.8" text-anchor="end" font-family='"Liberation Serif","Noto Serif CJK SC",serif' font-weight="bold" font-size="25">−0.10</text>
<text x="944.2" y="526.4" text-anchor="end" font-family='"Liberation Serif","Noto Serif CJK SC",serif' font-weight="bold" font-size="25">−0.15</text>
<text x="944.2" y="599.0" text-anchor="end" font-family='"Liberation Serif","Noto Serif CJK SC",serif' font-weight="bold" font-size="25">−0.20</text>
</g>
<rect x="577.9" y="35.0" width="20.8" height="20.8" fill="#ff0000"/>
<circle cx="587.8" cy="73.2" r="11.9" fill="#1e6fe0"/>
<polygon points="587.8,85.6 574.1,109.0 601.5,109.0" fill="#008000"/>
<text x="619.7" y="52.8" font-family='"Liberation Serif","Noto Serif CJK SC",serif' font-weight="bold" font-size="21.5" fill="#000" text-anchor="start" >H-S-M model</text>
<text x="619.7" y="80.7" font-family='"Liberation Serif","Noto Serif CJK SC",serif' font-weight="bold" font-size="21.5" fill="#000" text-anchor="start" >Loebenstein model</text>
<text x="619.7" y="108.4" font-family='"Liberation Serif","Noto Serif CJK SC",serif' font-weight="bold" font-size="21.5" fill="#000" text-anchor="start" >Mahmoud model</text>
<text x="733" y="161" font-family='"Liberation Serif","Noto Serif CJK SC",serif' font-weight="bold" font-size="18" fill="#000" text-anchor="start" >L101</text>
<text x="425" y="285" font-family='"Liberation Serif","Noto Serif CJK SC",serif' font-weight="bold" font-size="18.5" fill="#000" text-anchor="middle" >0.132</text>
<rect x="1562.6" y="28.2" width="20.8" height="20.8" fill="#ff0000"/>
<circle cx="1572.3" cy="66.6" r="11.9" fill="#008000"/>
<text x="1604.1" y="45.6" font-family='"Liberation Serif","Noto Serif CJK SC",serif' font-weight="bold" font-size="21" fill="#000" text-anchor="start" >L101</text>
<text x="1604.1" y="73.7" font-family='"Liberation Serif","Noto Serif CJK SC",serif' font-weight="bold" font-size="21" fill="#000" text-anchor="start" >L102</text>
<text transform="translate(398.9,341.3) scale(1.2,0.84)" font-family='"Liberation Serif","Noto Serif CJK SC",serif' font-style="italic" font-size="19" fill="#a01e00">Δ</text>
<text font-size="19" fill="#a01e00" font-family='"Liberation Serif","Noto Serif CJK SC",serif' font-weight="bold"><tspan x="387.7" y="341.1" text-anchor="middle" font-family='"Noto Sans CJK SC","Liberation Serif",sans-serif' font-weight="bold" font-size="17.8" stroke="#a01e00" stroke-width="0.7">｜</tspan><tspan x="412.0" y="341.3" font-weight="normal">/</tspan><tspan x="417.9" y="341.3">Z</tspan><tspan x="439.1" y="341.1" text-anchor="middle" font-family='"Noto Sans CJK SC","Liberation Serif",sans-serif' font-weight="bold" font-size="17.8" stroke="#a01e00" stroke-width="0.7">｜</tspan><tspan x="449.7" y="341.3">≤</tspan><tspan x="460.2" y="341.3">0.1</tspan></text>
<text transform="translate(527.3,401.3) scale(1.2,0.84)" font-family='"Liberation Serif","Noto Serif CJK SC",serif' font-style="italic" font-size="19" fill="#ff8410">Δ</text>
<text font-size="19" fill="#ff8410" font-family='"Liberation Serif","Noto Serif CJK SC",serif' font-weight="bold"><tspan x="516.1" y="401.1" text-anchor="middle" font-family='"Noto Sans CJK SC","Liberation Serif",sans-serif' font-weight="bold" font-size="17.8" stroke="#ff8410" stroke-width="0.7">｜</tspan><tspan x="540.4" y="401.3" font-weight="normal">/</tspan><tspan x="546.3" y="401.3">Z</tspan><tspan x="567.5" y="401.1" text-anchor="middle" font-family='"Noto Sans CJK SC","Liberation Serif",sans-serif' font-weight="bold" font-size="17.8" stroke="#ff8410" stroke-width="0.7">｜</tspan><tspan x="578.1" y="401.3">≤</tspan><tspan x="588.6" y="401.3">0.15</tspan></text>
<text x="251.5" y="480" font-family='"Liberation Serif","Noto Serif CJK SC",serif' font-weight="bold" font-size="19" fill="#ff8410" text-anchor="start" >7.3773MPa</text>
<text transform="translate(1347.3,402.5) scale(1.2,0.84)" font-family='"Liberation Serif","Noto Serif CJK SC",serif' font-style="italic" font-size="19" fill="#f31c05">Δ</text>
<text font-size="19" fill="#f31c05" font-family='"Liberation Serif","Noto Serif CJK SC",serif' font-weight="bold"><tspan x="1336.1" y="402.3" text-anchor="middle" font-family='"Noto Sans CJK SC","Liberation Serif",sans-serif' font-weight="bold" font-size="17.8" stroke="#f31c05" stroke-width="0.7">｜</tspan><tspan x="1360.4" y="402.5" font-weight="normal">/</tspan><tspan x="1365.9" y="402.5">μ</tspan><tspan x="1376.8" y="408.0" font-size="13.5">g</tspan><tspan x="1392.3" y="402.3" text-anchor="middle" font-family='"Noto Sans CJK SC","Liberation Serif",sans-serif' font-weight="bold" font-size="17.8" stroke="#f31c05" stroke-width="0.7">｜</tspan><tspan x="1402.6" y="402.5">≤</tspan><tspan x="1413.5" y="402.5">0.1</tspan></text>
<text transform="translate(1426.6,495.2) scale(1.2,0.84)" font-family='"Liberation Serif","Noto Serif CJK SC",serif' font-style="italic" font-size="19" fill="#ff8410">Δ</text>
<text font-size="19" fill="#ff8410" font-family='"Liberation Serif","Noto Serif CJK SC",serif' font-weight="bold"><tspan x="1415.4" y="495.0" text-anchor="middle" font-family='"Noto Sans CJK SC","Liberation Serif",sans-serif' font-weight="bold" font-size="17.8" stroke="#ff8410" stroke-width="0.7">｜</tspan><tspan x="1439.7" y="495.2" font-weight="normal">/</tspan><tspan x="1445.6" y="495.2">Z</tspan><tspan x="1466.8" y="495.0" text-anchor="middle" font-family='"Noto Sans CJK SC","Liberation Serif",sans-serif' font-weight="bold" font-size="17.8" stroke="#ff8410" stroke-width="0.7">｜</tspan><tspan x="1477.4" y="495.2">≤</tspan><tspan x="1487.9" y="495.2">0.15</tspan></text>
<text x="1115.3" y="553" font-family='"Liberation Serif","Noto Serif CJK SC",serif' font-weight="bold" font-size="19" fill="#ff8410" text-anchor="start" >7.3773MPa</text>
<text x="457.6" y="669" font-family='"Liberation Serif","Noto Serif CJK SC",serif' font-weight="bold" font-size="30.5" fill="#000" text-anchor="middle" >gas pressure/MPa</text>
<text x="1312.9" y="669" font-family='"Liberation Serif","Noto Serif CJK SC",serif' font-weight="bold" font-size="30.5" fill="#000" text-anchor="middle" >gas pressure/MPa</text>
<text x="449.5" y="760" font-family='"Liberation Serif","Noto Serif CJK SC",serif' font-weight="normal" font-size="50" fill="#000" text-anchor="middle" >(a)</text>
<text x="1326.4" y="760" font-family='"Liberation Serif","Noto Serif CJK SC",serif' font-weight="normal" font-size="50" fill="#000" text-anchor="middle" >(b)</text>
<text transform="translate(21.6,323.7) rotate(-90) scale(0.98,0.9)" font-size="30" font-family='"Liberation Serif","Noto Serif CJK SC",serif' font-style="italic">Δ</text>
<text transform="translate(21.6,323.7) rotate(-90)" font-size="30" font-family='"Liberation Serif","Noto Serif CJK SC",serif' font-weight="bold"><tspan x="20" font-weight="normal" font-style="italic">/</tspan><tspan x="28.8">Z</tspan></text>
<text transform="translate(871.1,327) rotate(-90) scale(0.98,0.9)" font-size="30" font-family='"Liberation Serif","Noto Serif CJK SC",serif' font-style="italic">Δ</text>
<text transform="translate(871.1,327) rotate(-90)" font-size="30" font-family='"Liberation Serif","Noto Serif CJK SC",serif' font-weight="bold"><tspan x="20" font-weight="normal" font-style="italic">/</tspan><tspan x="29.3">μ</tspan><tspan x="44.6" dy="8" font-size="22">g</tspan></text>
</svg>
</body></html>
